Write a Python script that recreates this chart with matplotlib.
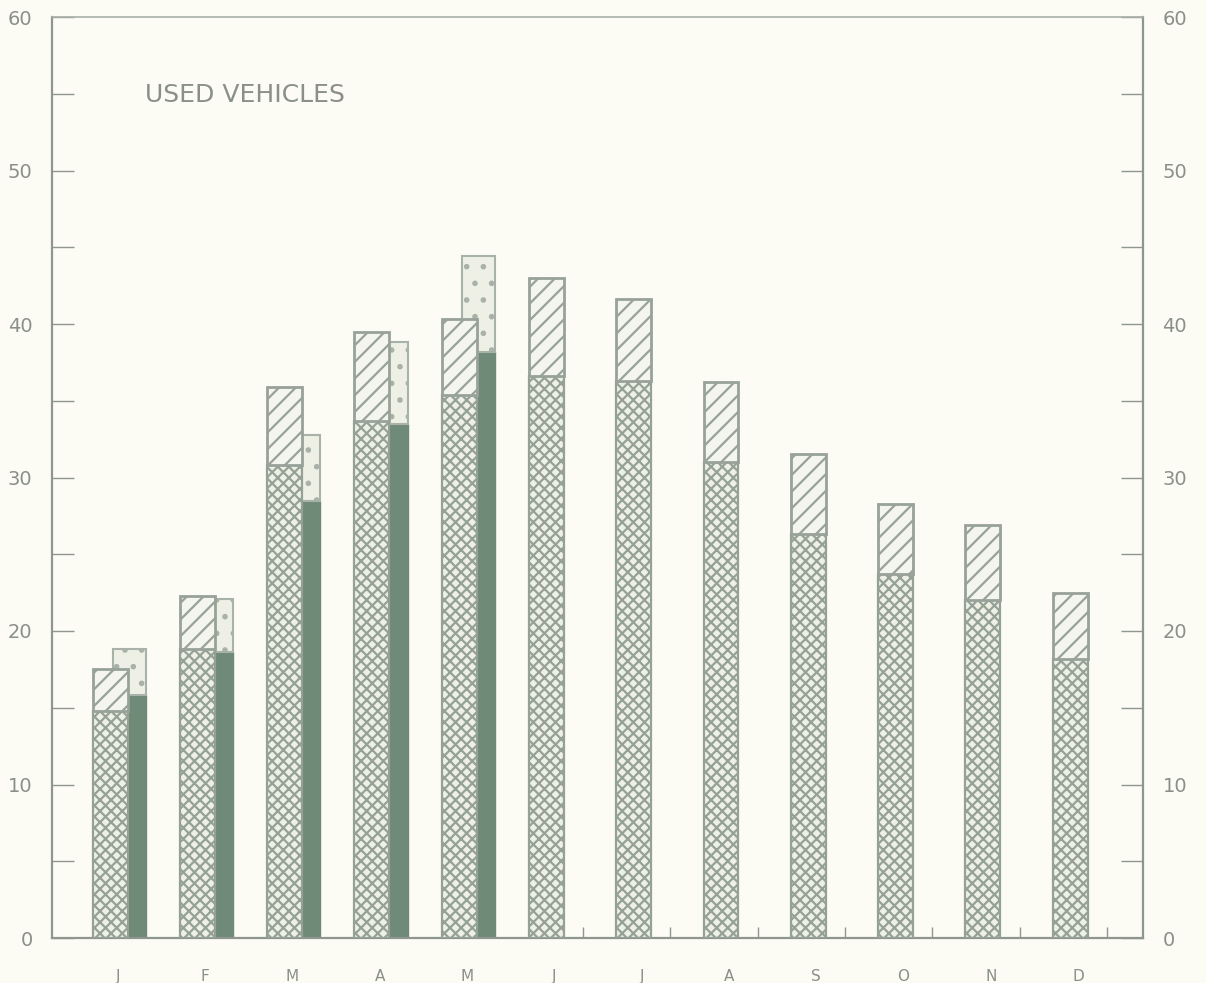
import matplotlib
matplotlib.use("Agg")
import matplotlib.pyplot as plt
import numpy as np

months = ["J", "F", "M", "A", "M", "J", "J", "A", "S", "O", "N", "D"]
# first series (full year): total height and cross-hatched base
prev_total = [17.5, 22.3, 35.9, 39.5, 40.3, 43.0, 41.6, 36.2, 31.5, 28.3, 26.9, 22.5]
prev_base = [14.8, 18.8, 30.8, 33.7, 35.4, 36.6, 36.3, 31.0, 26.3, 23.7, 22.0, 18.2]
# second series (Jan-May only): total height and solid base
curr_total = [18.8, 22.1, 32.8, 38.8, 44.4]
curr_base = [15.8, 18.6, 28.5, 33.5, 38.2]
yticks = [0, 10, 20, 30, 40, 50, 60]

bg = "#fcfcf4"
grey = "#8e968e"
text_c = "#8a9088"
dark = "#6f8a77"
plt.rcParams["hatch.linewidth"] = 1.6

fig = plt.figure(figsize=(12.06, 9.83), dpi=100, facecolor=bg)
ax = fig.add_axes([52/1206, 45/983, (1143-52)/1206, (938-17)/983])
ax.set_facecolor(bg)

x = np.arange(len(months))
xc = x[:len(curr_total)]
w1, w2 = 0.40, 0.38
o1, o2 = -0.09, 0.13

# second series (behind)
ax.bar(xc + o2, curr_base, width=w2, color=dark, edgecolor=dark, linewidth=1.0, zorder=2)
ax.bar(xc + o2, np.array(curr_total) - np.array(curr_base), bottom=curr_base, width=w2,
       color="#eef0e6", edgecolor="#a9b2a9", hatch=".", linewidth=1.5, zorder=2)

# first series
ax.bar(x + o1, prev_base, width=w1, color="#eef0e6", edgecolor="#95a195", hatch="xxx",
       linewidth=1.6, zorder=3)
ax.bar(x + o1, np.array(prev_total) - np.array(prev_base), bottom=prev_base, width=w1,
       color="#f4f5ec", edgecolor="#98a298", hatch="//", linewidth=2.0, zorder=3)

ax.set_xlim(-0.756, 11.745)
ax.set_ylim(0, 60)

ax.set_yticks(yticks)
ax.set_yticks(np.arange(5, 60, 10), minor=True)
ax.tick_params(axis="y", which="both", direction="in", length=16, width=1.0, color=grey,
               left=True, right=True, labelleft=True, labelright=True,
               labelsize=14, labelcolor=text_c, pad=14)
ax.set_xticks(x)
ax.set_xticklabels(months)
ax.set_xticks(x[len(curr_total):] + 0.33, minor=True)
ax.tick_params(axis="x", which="major", length=0, labelsize=11, labelcolor=text_c, pad=22)
ax.tick_params(axis="x", which="minor", direction="in", length=8, width=1.0, color=grey)

for s in ax.spines.values():
    s.set_color(grey)
    s.set_linewidth(1.6)
ax.spines["top"].set_color("#a8b0a8")
ax.spines["top"].set_linewidth(1.2)

ax.text(0.085, 0.915, "USED VEHICLES", transform=ax.transAxes, fontsize=18,
        color=text_c, ha="left", va="center")

fig.savefig("out.png", dpi=100, facecolor=bg)
